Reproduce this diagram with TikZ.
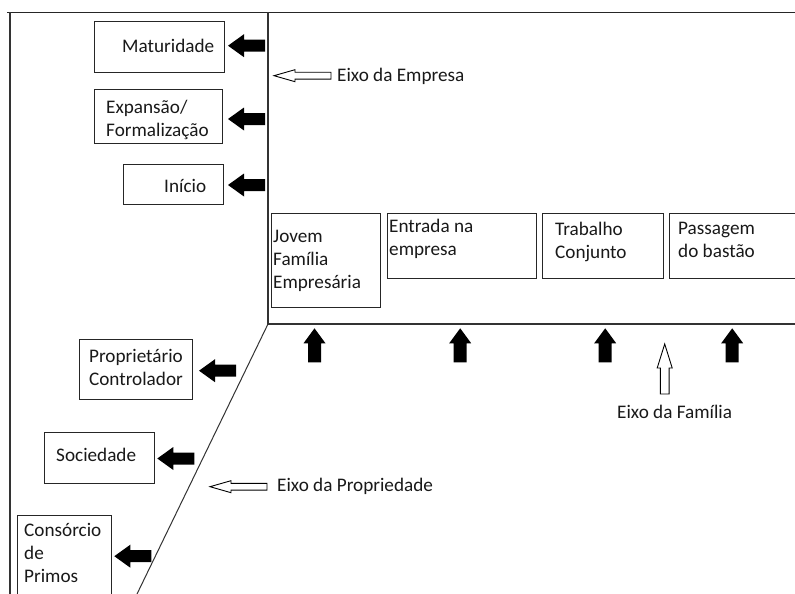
\documentclass[tikz,border=0pt]{standalone}
\usepackage{fontspec}
\setmainfont{Carlito}
\newcommand\lblfont{\fontsize{19.2}{23}\selectfont}
\begin{document}
\begin{tikzpicture}[x=1pt,y=-1pt,
  box/.style={draw=black!85, line width=1.2pt, inner sep=0pt, anchor=north west},
  txt/.style={anchor=north west, inner sep=0pt, align=left, font=\lblfont, text=black!90},
  axisline/.style={draw=black!80, line width=1.3pt},
  solidleft/.pic={\fill[black] (0,0) -- (16,-11.5) -- (16,-6) -- (37,-6) -- (37,6) -- (16,6) -- (16,11.5) -- cycle;},
  solidup/.pic={\fill[black] (0,0) -- (11,15) -- (6.5,15) -- (6.5,34) -- (-6.5,34) -- (-6.5,15) -- (-11,15) -- cycle;},
  hollowleft/.pic={\filldraw[fill=white, draw=black, line width=0.9pt] (0,0) -- (21,-6) -- (21,-3.4) -- (57,-3.4) -- (57,3.4) -- (21,3.4) -- (21,6) -- cycle;},
  hollowup/.pic={\filldraw[fill=white, draw=black, line width=0.9pt] (0,0) -- (7.5,24) -- (4.4,24) -- (4.4,50) -- (-4.4,50) -- (-4.4,24) -- (-7.5,24) -- cycle;}
]
\clip (0,0) rectangle (795,594);
\fill[white] (0,0) rectangle (795,594);

% frame and axes
\coordinate (tl) at (7,12.5);
\coordinate (tr) at (795,12.5);
\coordinate (fl) at (10,12.5);
\coordinate (fb) at (10,594);
\coordinate (ax) at (268,12.5);
\coordinate (corner) at (268,324);
\coordinate (hr) at (795,324);
\coordinate (diag) at (137,594);
\draw[black!85, line width=1.8pt] (tl) -- (tr);
\draw[axisline] (fl) -- (fb);
\draw[axisline] (ax) -- (corner) -- (hr);
\draw[black!80, line width=1pt] (corner) -- (diag);

% company axis boxes
\node[box, minimum width=130, minimum height=51] (mat) at (94,21) {};
\node[txt] (matT) at (122,35.9) {\strut Maturidade};
\node[box, minimum width=128, minimum height=54] (exp) at (94,89) {};
\node[txt] (expT) at (106,96.9) {\strut Expansão/\\\strut Formalização};
\node[box, minimum width=100, minimum height=40] (ini) at (123,164) {};
\node[txt] (iniT) at (164,175.9) {\strut Início};

\pic at (228,45.7) {solidleft};
\pic at (228,119) {solidleft};
\pic at (228,185) {solidleft};

\pic at (274,75.7) {hollowleft};
\node[txt] (eixoE) at (337,64.9) {\strut Eixo da Empresa};

% family axis boxes
\node[box, minimum width=109, minimum height=94] (jov) at (271,213) {};
\node[txt] (jovT) at (273,225.9) {\strut Jovem\\\strut Família\\\strut Empresária};
\node[box, minimum width=149, minimum height=65] (ent) at (387,213) {};
\node[txt] (entT) at (389,216.6) {\strut Entrada na\\\strut empresa};
\node[box, minimum width=121, minimum height=65] (tra) at (542,213) {};
\node[txt] (traT) at (555,219.6) {\strut Trabalho\\\strut Conjunto};
\node[box, minimum width=140, minimum height=65] (pas) at (669,213) {};
\node[txt] (pasT) at (678,218.2) {\strut Passagem\\\strut do bastão};

\pic at (314.5,328.3) {solidup};
\pic at (460.2,328.3) {solidup};
\pic at (605.2,328.3) {solidup};
\pic at (732.2,328.3) {solidup};

\pic at (664.7,344) {hollowup};
\node[txt] (eixoF) at (617,401.9) {\strut Eixo da Família};

% ownership axis boxes
\node[box, minimum width=113, minimum height=60] (pro) at (79,339) {};
\node[txt, anchor=north, align=center] (proT) at (136,346.2) {\strut Proprietário\\\strut Controlador};
\node[box, minimum width=110, minimum height=51] (soc) at (44,432) {};
\node[txt] (socT) at (56,444.9) {\strut Sociedade};
\node[box, minimum width=94, minimum height=100] (con) at (17,515) {};
\node[txt] (conT) at (24,520.6) {\strut Consórcio\\\strut de\\\strut Primos};

\pic at (199,370.7) {solidleft};
\pic at (157.3,458.5) {solidleft};
\pic at (114.3,556.2) {solidleft};

\pic at (210,486.7) {hollowleft};
\node[txt] (eixoP) at (277,475.6) {\strut Eixo da Propriedade};
\end{tikzpicture}
\end{document}
